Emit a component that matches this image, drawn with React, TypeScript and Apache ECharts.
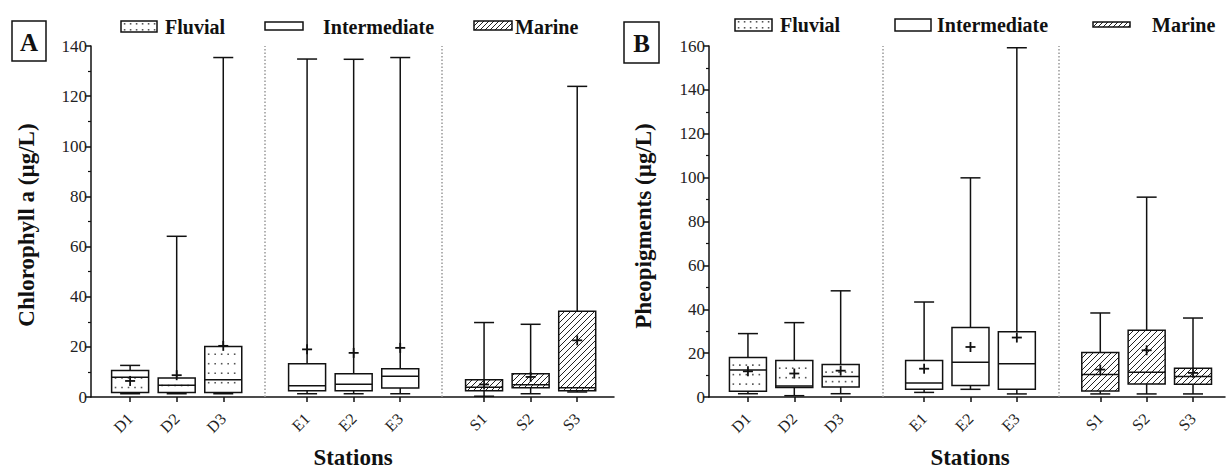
import { useEffect, useRef } from "react";
import * as echarts from "echarts";

const stations = ["D1", "D2", "D3", "E1", "E2", "E3", "S1", "S2", "S3"];
const groupNames = ["Fluvial", "Intermediate", "Marine"];
const stationGroup = [0, 0, 0, 1, 1, 1, 2, 2, 2];

// Panel A – Chlorophyll a (µg/L)
const chlMin = [1.3, 1.3, 1.3, 1.3, 1.3, 1.3, 0.3, 1.3, 2.0];
const chlQ1 = [1.8, 1.8, 1.8, 2.5, 2.5, 3.6, 2.5, 3.7, 2.5];
const chlMed = [7.9, 4.7, 6.9, 4.5, 5.1, 8.3, 3.9, 4.9, 3.7];
const chlQ3 = [10.6, 7.6, 20.1, 13.3, 9.3, 11.3, 6.9, 9.3, 34.2];
const chlMax = [12.6, 64.1, 135.4, 134.8, 134.7, 135.4, 29.7, 29.0, 123.9];
const chlMean = [6.4, 8.7, 20.4, 19.0, 17.6, 19.6, 5.0, 8.0, 22.6];

// Panel B – Pheopigments (µg/L)
const pheoMin = [1.5, 0.6, 1.5, 2.1, 3.5, 1.4, 1.4, 1.4, 1.4];
const pheoQ1 = [2.6, 4.3, 4.6, 3.5, 5.2, 3.5, 2.7, 5.9, 5.8];
const pheoMed = [12.3, 5.0, 9.4, 6.4, 15.8, 15.2, 10.2, 11.3, 9.4];
const pheoQ3 = [18.0, 16.6, 14.8, 16.6, 31.7, 29.7, 20.3, 30.4, 13.1];
const pheoMax = [28.9, 33.9, 48.4, 43.3, 99.9, 159.2, 38.3, 91.1, 36.0];
const pheoMean = [11.7, 10.7, 12.0, 12.9, 22.8, 27.1, 12.5, 21.3, 11.0];

const yTicksA = { max: 140, interval: 20 };
const yTicksB = { max: 160, interval: 20 };

const SERIF = "Liberation Serif, DejaVu Serif, serif";
const GROUP_GAP = 0.8;
const stationPos = stations.map((_, i) => 1 + i + GROUP_GAP * stationGroup[i]);
const separators = [3 + GROUP_GAP / 2 + 0.5, 6 + GROUP_GAP * 1.5 + 0.5];

function hatch(x0: number, y0: number, x1: number, y1: number, step: number, lw = 1) {
  const out: any[] = [];
  const cStart = Math.ceil((x0 + y0) / step) * step;
  for (let c = cStart; c <= x1 + y1; c += step) {
    const xa = Math.max(x0, c - y1);
    const xb = Math.min(x1, c - y0);
    if (xb - xa > 0.5) {
      out.push({
        type: "line",
        shape: { x1: xa, y1: c - xa, x2: xb, y2: c - xb },
        style: { stroke: "#222", lineWidth: lw },
        silent: true,
      });
    }
  }
  return out;
}

function dots(x0: number, y0: number, x1: number, y1: number, dx: number, dy: number) {
  const out: any[] = [];
  for (let y = y0 + dy * 0.8; y < y1 - 2; y += dy) {
    for (let x = x0 + dx * 0.6; x < x1 - 2; x += dx) {
      out.push({
        type: "rect",
        shape: { x: x - 0.8, y: y - 0.8, width: 1.6, height: 1.6 },
        style: { fill: "#555" },
        silent: true,
      });
    }
  }
  return out;
}

function fillFor(g: number, x0: number, y0: number, x1: number, y1: number) {
  if (g === 0) return dots(x0, y0, x1, y1, 6.5, 9.5);
  if (g === 2) return hatch(x0, y0, x1, y1, 6);
  return [];
}

const BOX_W = 37;
const CAP_W = 20;
const LW = 1.5;

function renderBox(params: any, api: any) {
  const pos = api.value(0);
  const g = api.value(7);
  const [cx, yMin] = api.coord([pos, api.value(1)]);
  const yQ1 = api.coord([pos, api.value(2)])[1];
  const yMed = api.coord([pos, api.value(3)])[1];
  const yQ3 = api.coord([pos, api.value(4)])[1];
  const yMax = api.coord([pos, api.value(5)])[1];
  const yMean = api.coord([pos, api.value(6)])[1];
  const x0 = cx - BOX_W / 2;
  const x1 = cx + BOX_W / 2;
  const st = { stroke: "#111", lineWidth: LW };
  const children: any[] = [
    { type: "line", shape: { x1: cx, y1: yQ3, x2: cx, y2: yMax }, style: st },
    { type: "line", shape: { x1: cx - CAP_W / 2, y1: yMax, x2: cx + CAP_W / 2, y2: yMax }, style: st },
    { type: "line", shape: { x1: cx, y1: yQ1, x2: cx, y2: yMin }, style: st },
    { type: "line", shape: { x1: cx - CAP_W / 2, y1: yMin, x2: cx + CAP_W / 2, y2: yMin }, style: st },
    { type: "rect", shape: { x: x0, y: yQ3, width: BOX_W, height: yQ1 - yQ3 }, style: { fill: "#fff" } },
    ...fillFor(g, x0, yQ3, x1, yQ1),
    { type: "rect", shape: { x: x0, y: yQ3, width: BOX_W, height: yQ1 - yQ3 }, style: { fill: "none", stroke: "#111", lineWidth: LW } },
    { type: "line", shape: { x1: x0, y1: yMed, x2: x1, y2: yMed }, style: st },
    { type: "line", shape: { x1: cx - 5, y1: yMean, x2: cx + 5, y2: yMean }, style: { stroke: "#111", lineWidth: 1.8 } },
    { type: "line", shape: { x1: cx, y1: yMean - 5, x2: cx, y2: yMean + 5 }, style: { stroke: "#111", lineWidth: 1.8 } },
  ];
  return { type: "group", children };
}

function boxData(mn: number[], q1: number[], med: number[], q3: number[], mx: number[], mean: number[]) {
  return stations.map((_, i) => [stationPos[i], mn[i], q1[i], med[i], q3[i], mx[i], mean[i], stationGroup[i]]);
}

function legendIcon(g: number, x: number, y: number, w: number, h: number) {
  return [
    { type: "rect", shape: { x, y, width: w, height: h }, style: { fill: "#fff" } },
    ...(g === 0 ? dots(x, y - 2, x + w, y + h, 6, 6) : g === 2 ? hatch(x, y, x + w, y + h, 5) : []),
    { type: "rect", shape: { x, y, width: w, height: h }, style: { fill: "none", stroke: "#111", lineWidth: 1.5 } },
  ];
}

function legendText(text: string, x: number, y: number) {
  return {
    type: "text",
    x,
    y,
    style: { text, fontFamily: SERIF, fontWeight: "bold", fontSize: 20, fill: "#111", align: "left", verticalAlign: "middle" },
  };
}

const legendA = [
  { icon: [121, 21, 36, 11], tx: 165 },
  { icon: [265, 22, 38, 8], tx: 323 },
  { icon: [474, 21, 38, 9], tx: 515 },
];
const legendB = [
  { icon: [735, 19, 37, 12], tx: 780 },
  { icon: [895, 19, 36, 12], tx: 937 },
  { icon: [1093, 22, 37, 5], tx: 1152 },
];

function legendGraphics(items: any[], ty: number) {
  const out: any[] = [];
  items.forEach((it, g) => {
    const [x, y, w, h] = it.icon;
    out.push(...legendIcon(g, x, y, w, h));
    out.push(legendText(groupNames[g], it.tx, ty));
  });
  return out;
}

function xAxisFor(gridIndex: number, max: number) {
  return {
    type: "value",
    gridIndex,
    min: 0.16,
    max,
    axisLine: { show: true, lineStyle: { color: "#111", width: 1.5 } },
    axisTick: { show: true, customValues: stationPos, length: 5, lineStyle: { color: "#111", width: 1.5 } },
    axisLabel: {
      show: true,
      customValues: stationPos,
      rotate: 45,
      margin: 19,
      fontFamily: SERIF,
      fontSize: 16,
      color: "#222",
      formatter: (v: number) => {
        const i = stationPos.findIndex((p) => Math.abs(p - v) < 0.01);
        return i >= 0 ? stations[i] : "";
      },
    },
    splitLine: { show: false },
  };
}

function yAxisFor(gridIndex: number, t: { max: number; interval: number }) {
  return {
    type: "value",
    gridIndex,
    min: 0,
    max: t.max,
    interval: t.interval,
    axisLine: { show: true, lineStyle: { color: "#111", width: 1.5 } },
    axisTick: { show: true, length: 6, lineStyle: { color: "#111", width: 1.5 } },
    minorTick: { show: true, splitNumber: 2, length: 3, lineStyle: { color: "#111", width: 1.2 } },
    axisLabel: { fontFamily: SERIF, fontSize: 17, color: "#222", margin: 4 },
    splitLine: { show: false },
  };
}

function sepSeries(idx: number) {
  return {
    type: "line",
    xAxisIndex: idx,
    yAxisIndex: idx,
    data: [],
    silent: true,
    markLine: {
      silent: true,
      symbol: "none",
      label: { show: false },
      lineStyle: { type: [1.5, 2], color: "#999", width: 1.5 },
      data: separators.map((s) => ({ xAxis: s })),
    },
  };
}

export default function App() {
  const ref = useRef<HTMLDivElement>(null);
  useEffect(() => {
    const chart = echarts.init(ref.current!, null, { renderer: "svg" });
    const option: any = {
      animation: false,
      backgroundColor: "#fff",
      textStyle: { fontFamily: SERIF },
      grid: [
        { left: 91, top: 46, width: 523, height: 351 },
        { left: 709, top: 46, width: 516, height: 351 },
      ],
      xAxis: [xAxisFor(0, 11.39), xAxisFor(1, 11.29)],
      yAxis: [yAxisFor(0, yTicksA), yAxisFor(1, yTicksB)],
      series: [
        sepSeries(0),
        sepSeries(1),
        {
          type: "custom",
          xAxisIndex: 0,
          yAxisIndex: 0,
          renderItem: renderBox,
          encode: { x: 0, y: [1, 5] },
          data: boxData(chlMin, chlQ1, chlMed, chlQ3, chlMax, chlMean),
          clip: false,
        },
        {
          type: "custom",
          xAxisIndex: 1,
          yAxisIndex: 1,
          renderItem: renderBox,
          encode: { x: 0, y: [1, 5] },
          data: boxData(pheoMin, pheoQ1, pheoMed, pheoQ3, pheoMax, pheoMean),
          clip: false,
        },
      ],
      graphic: [
        ...legendGraphics(legendA, 27),
        ...legendGraphics(legendB, 25),
        { type: "rect", shape: { x: 12, y: 21, width: 34, height: 40 }, style: { fill: "none", stroke: "#111", lineWidth: 1.5 } },
        { type: "text", x: 29, y: 42, style: { text: "A", fontFamily: SERIF, fontWeight: "bold", fontSize: 25, fill: "#111", align: "center", verticalAlign: "middle" } },
        { type: "rect", shape: { x: 624, y: 22, width: 35, height: 41 }, style: { fill: "none", stroke: "#111", lineWidth: 1.5 } },
        { type: "text", x: 641.5, y: 43, style: { text: "B", fontFamily: SERIF, fontWeight: "bold", fontSize: 25, fill: "#111", align: "center", verticalAlign: "middle" } },
        { type: "text", x: 26, y: 225, rotation: Math.PI / 2, style: { text: "Chlorophyll a (µg/L)", fontFamily: SERIF, fontWeight: "bold", fontSize: 23, fill: "#111", align: "center", verticalAlign: "middle" } },
        { type: "text", x: 643, y: 226, rotation: Math.PI / 2, style: { text: "Pheopigments (µg/L)", fontFamily: SERIF, fontWeight: "bold", fontSize: 23, fill: "#111", align: "center", verticalAlign: "middle" } },
        { type: "text", x: 353, y: 457.5, style: { text: "Stations", fontFamily: SERIF, fontWeight: "bold", fontSize: 23, fill: "#111", align: "center", verticalAlign: "middle" } },
        { type: "text", x: 970, y: 457.5, style: { text: "Stations", fontFamily: SERIF, fontWeight: "bold", fontSize: 23, fill: "#111", align: "center", verticalAlign: "middle" } },
      ],
    };
    chart.setOption(option);
    return () => chart.dispose();
  }, []);
  return (
    <div
      ref={ref}
      style={{ position: "fixed", left: 0, top: 0, width: 1226, height: 470, background: "#fff" }}
    />
  );
}
